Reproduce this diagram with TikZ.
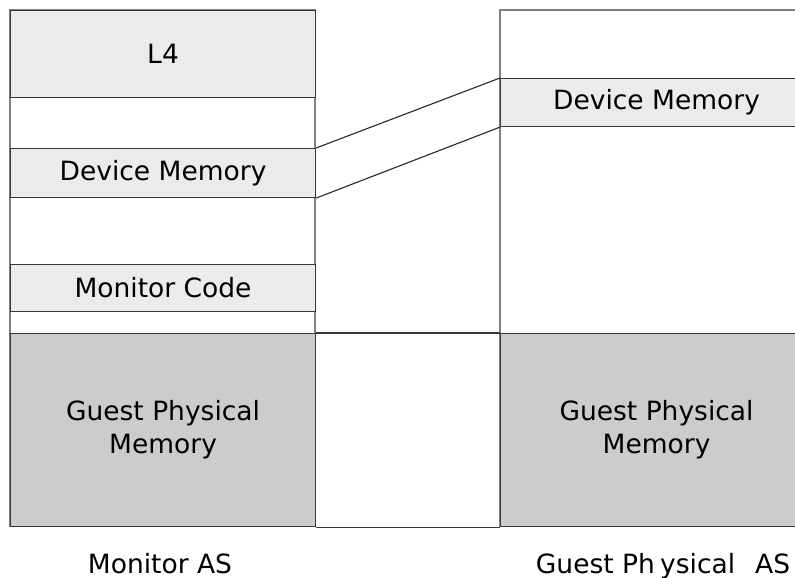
\documentclass[tikz,border=0pt]{standalone}
\usepackage{fontspec}
\setmainfont{DejaVu Sans}
\usetikzlibrary{positioning}

\tikzset{
    region/.style={draw=black!78, fill=black!8, line width=1.1pt, inner sep=0pt,
        anchor=north west, align=center, minimum width=305pt,
        font=\fontsize{26.5}{33}\selectfont},
    guestmem/.style={region, fill=black!20},
    colframe/.style={draw=black!50, line width=1.1pt},
    caption/.style={anchor=base, font=\fontsize{26.5}{32}\selectfont}
}

\begin{document}
\begin{tikzpicture}[x=1pt, y=-1pt]
    \useasboundingbox (0,0) rectangle (795,578);

    % Column frames
    \draw[colframe] (10,10) rectangle (315,526);
    \draw[colframe] (500,10) rectangle (812,526);

    % Monitor address space
    \node[region, minimum height=87pt] (l4) at (10,10) {L4};
    \node[region, minimum height=49pt] (devmon) at (10,148) {Device Memory};
    \node[region, minimum height=47pt] (moncode) at (10,264) {Monitor Code};
    \node[guestmem, minimum height=193pt] (gpmon) at (10,333) {Guest Physical\\Memory};

    % Guest physical address space
    \node[region, minimum width=312pt, minimum height=48pt] (devguest) at (500,78) {Device Memory};
    \node[guestmem, minimum width=312pt, minimum height=193pt] (gpguest) at (500,333) {Guest Physical\\Memory};

    % Gap between the columns
    \draw[draw=black!78, line width=1.1pt] (gpmon.north east) -- (gpguest.north west);
    \draw[draw=black!78, line width=1.1pt] (gpmon.south east) -- (gpguest.south west);

    % Mapping of the device memory
    \draw[line width=1.1pt, black!85] (devmon.north east) -- (devguest.north west);
    \draw[line width=1.1pt, black!85] (devmon.south east) -- (devguest.south west);

    % Captions
    \node[caption] (moncap) at (160,573) {Monitor AS};
    \node[caption] (guestcap) at (663,573) {Guest Ph\hspace{0.2em}ysical\hspace{0.75em}AS};
\end{tikzpicture}
\end{document}
